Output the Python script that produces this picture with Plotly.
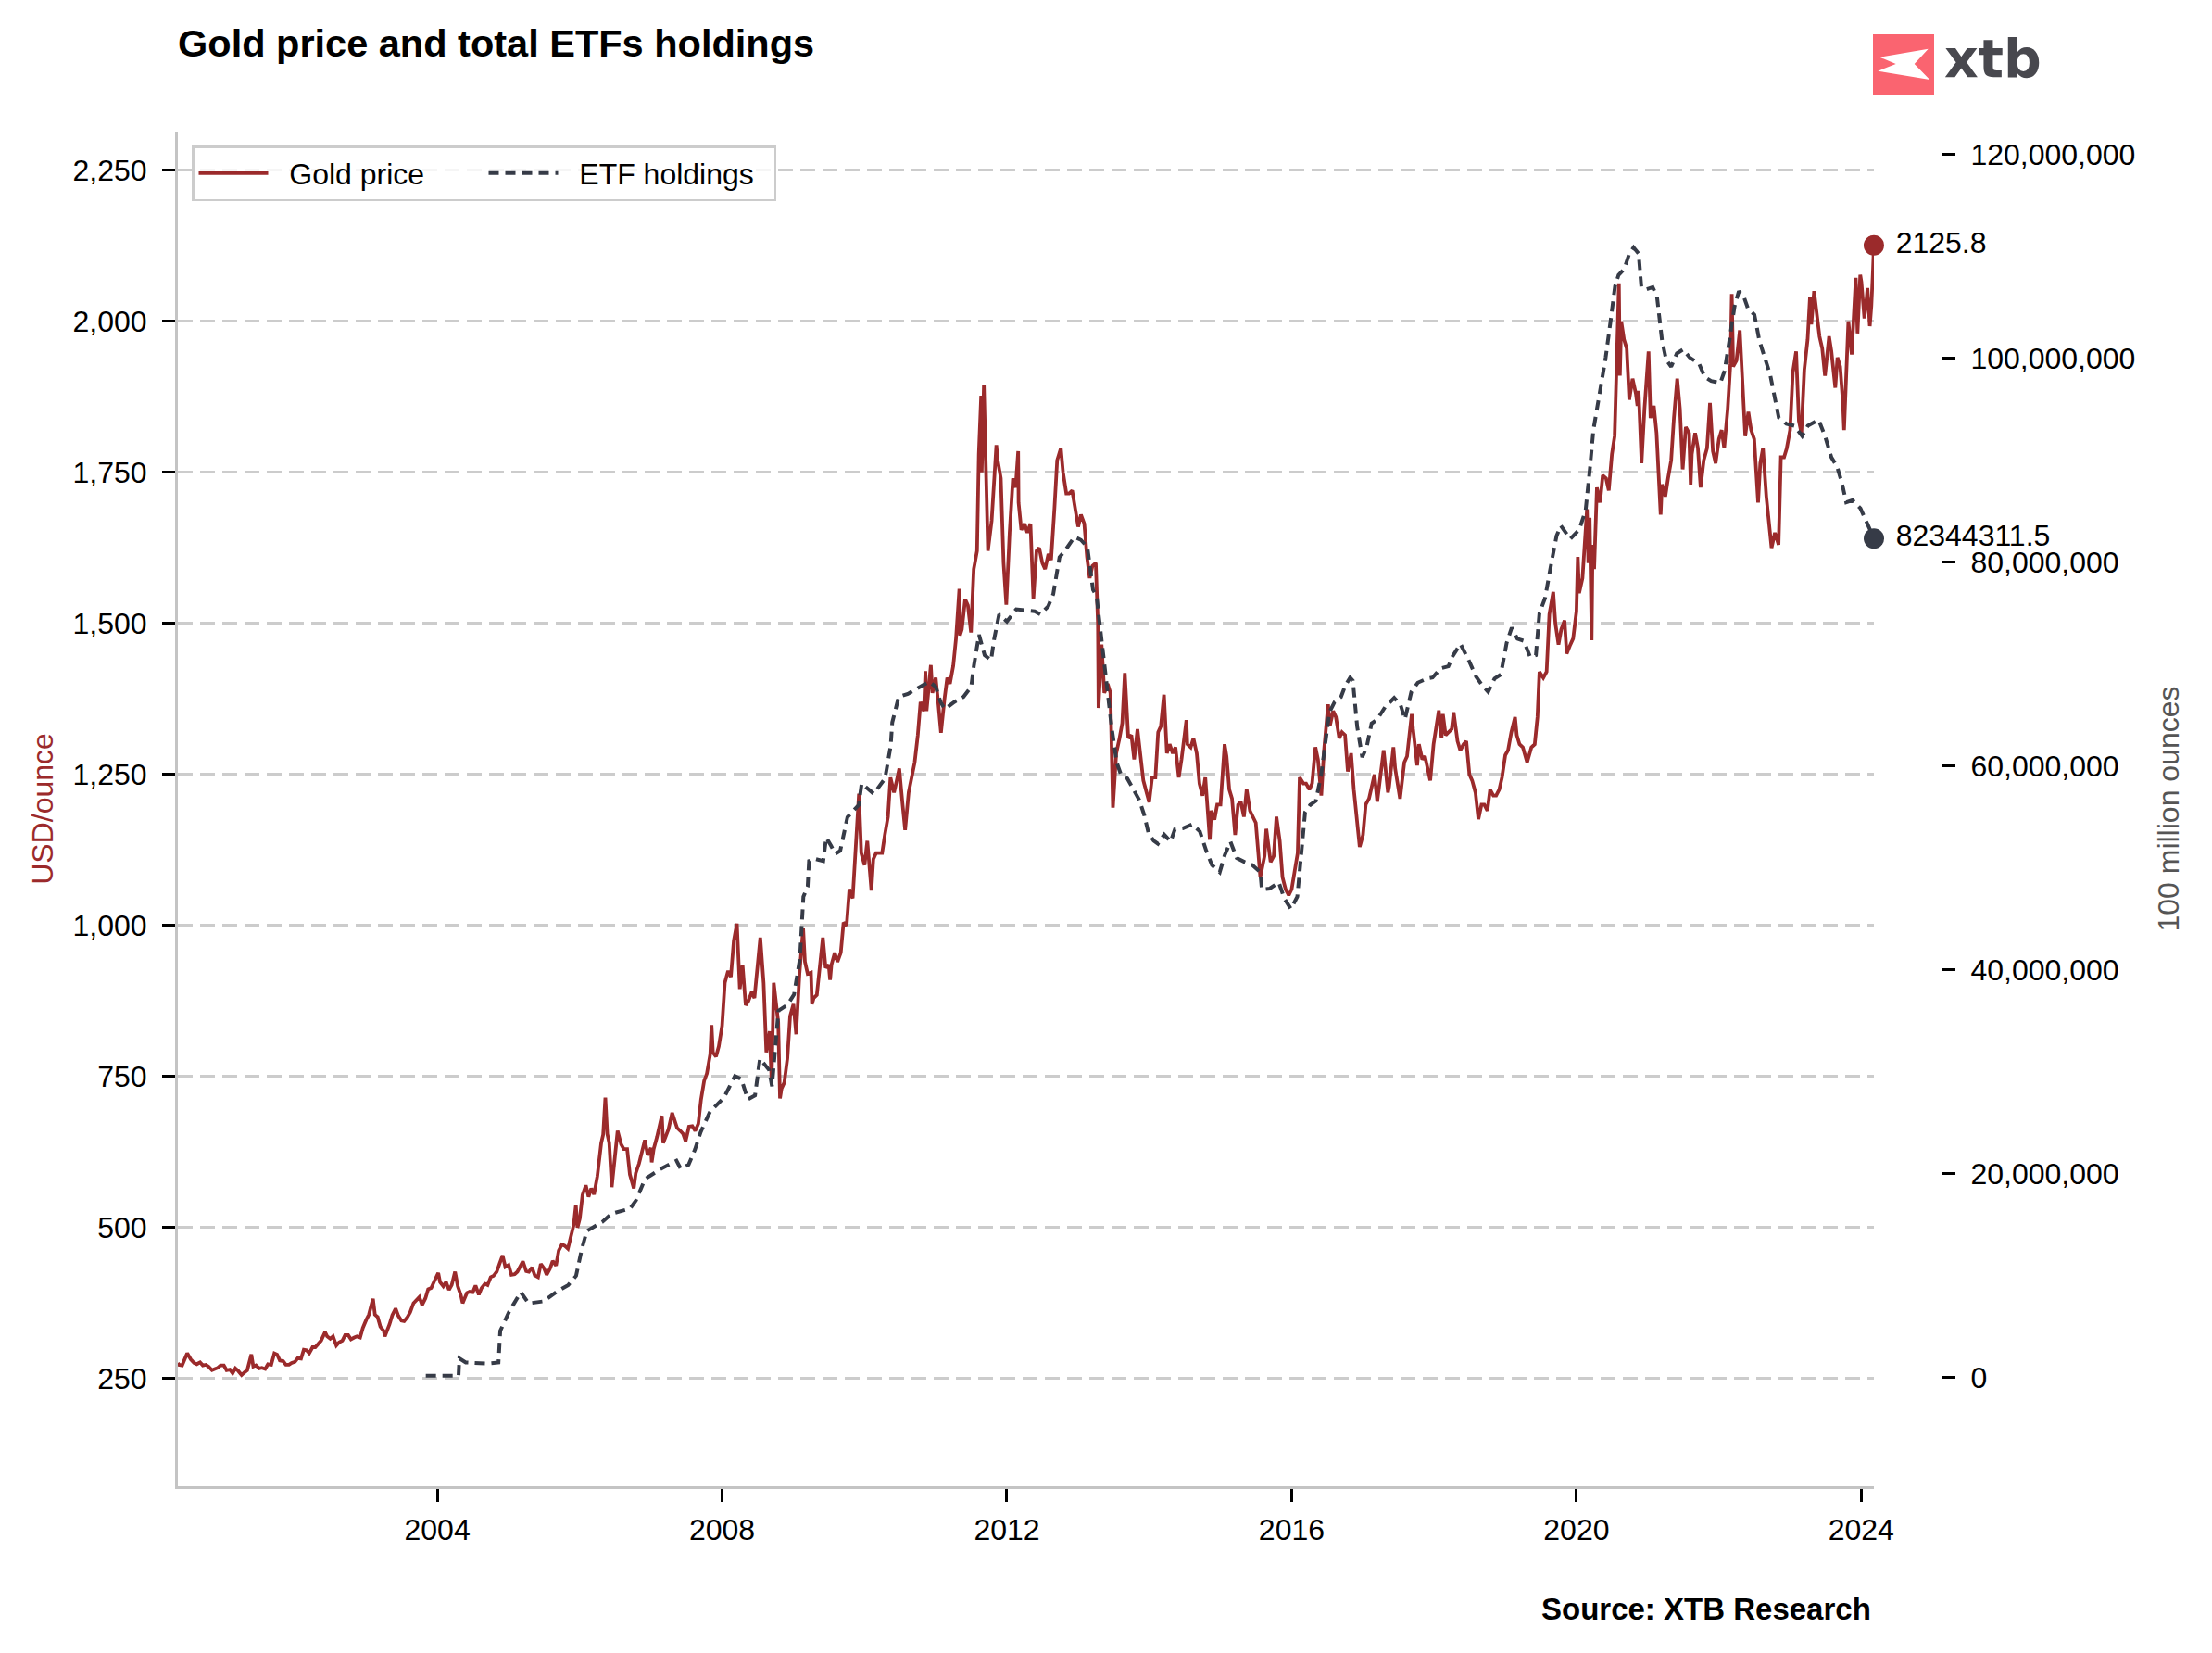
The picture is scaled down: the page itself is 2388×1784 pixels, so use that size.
import plotly.graph_objects as go

# ------------------------------------------------------------------ data
# Gold price, USD/ounce
gold_2000 = [("2000-05-10", 276), ("2000-05-15", 273), ("2000-06-01", 272), ("2000-06-15", 285), ("2000-06-27", 292),
             ("2000-07-15", 282), ("2000-08-01", 276), ("2000-08-15", 274), ("2000-09-01", 277), ("2000-09-15", 272),
             ("2000-10-01", 273), ("2000-10-15", 270), ("2000-11-01", 264), ("2000-11-15", 266), ("2000-12-01", 268),
             ("2000-12-15", 272)]
gold_2001 = [("2001-01-01", 272), ("2001-01-15", 264), ("2001-02-01", 265), ("2001-02-15", 259), ("2001-03-01", 267),
             ("2001-03-15", 263), ("2001-04-02", 256), ("2001-04-15", 260), ("2001-05-01", 264), ("2001-05-22", 290),
             ("2001-06-01", 270), ("2001-06-15", 272), ("2001-07-01", 267), ("2001-07-15", 268), ("2001-08-01", 266),
             ("2001-08-15", 274), ("2001-09-01", 273), ("2001-09-17", 292), ("2001-10-01", 290), ("2001-10-15", 280),
             ("2001-11-01", 279), ("2001-11-15", 273), ("2001-12-01", 273), ("2001-12-15", 276)]
gold_2002 = [("2002-01-01", 278), ("2002-01-15", 284), ("2002-02-01", 283), ("2002-02-15", 298), ("2002-03-01", 297),
             ("2002-03-15", 292), ("2002-04-01", 302), ("2002-04-15", 302), ("2002-05-01", 309), ("2002-05-15", 313),
             ("2002-06-04", 327), ("2002-06-15", 320), ("2002-07-01", 316), ("2002-07-15", 320), ("2002-08-01", 305),
             ("2002-08-15", 310), ("2002-09-01", 313), ("2002-09-15", 322), ("2002-10-01", 322), ("2002-10-15", 315),
             ("2002-11-01", 318), ("2002-11-15", 320), ("2002-12-01", 318), ("2002-12-15", 334)]
gold_2003 = [("2003-01-01", 347), ("2003-01-15", 356), ("2003-02-05", 382), ("2003-02-15", 356), ("2003-03-01", 352),
             ("2003-03-15", 336), ("2003-04-01", 329), ("2003-04-07", 320), ("2003-05-01", 340), ("2003-05-15", 355),
             ("2003-06-01", 366), ("2003-06-15", 354), ("2003-07-01", 346), ("2003-07-15", 345), ("2003-08-01", 352),
             ("2003-08-15", 360), ("2003-09-01", 375), ("2003-09-15", 379), ("2003-10-01", 385), ("2003-10-15", 372),
             ("2003-11-01", 383), ("2003-11-15", 398), ("2003-12-01", 400), ("2003-12-15", 410)]
gold_2004 = [("2004-01-06", 425), ("2004-01-15", 410), ("2004-02-01", 403), ("2004-02-15", 410), ("2004-03-01", 397),
             ("2004-03-15", 405), ("2004-04-01", 427), ("2004-04-15", 403), ("2004-05-01", 388), ("2004-05-10", 375),
             ("2004-06-01", 392), ("2004-06-15", 394), ("2004-07-01", 393), ("2004-07-15", 404), ("2004-08-01", 389),
             ("2004-08-15", 400), ("2004-09-01", 407), ("2004-09-15", 405), ("2004-10-01", 418), ("2004-10-15", 420),
             ("2004-11-01", 427), ("2004-11-15", 440), ("2004-12-01", 454), ("2004-12-15", 435)]
gold_2005 = [("2005-01-01", 438), ("2005-01-15", 422), ("2005-02-01", 423), ("2005-02-15", 427), ("2005-03-01", 435),
             ("2005-03-15", 444), ("2005-04-01", 428), ("2005-04-15", 427), ("2005-05-01", 434), ("2005-05-15", 421),
             ("2005-06-01", 418), ("2005-06-15", 440), ("2005-07-01", 433), ("2005-07-15", 422), ("2005-08-01", 432),
             ("2005-08-15", 445), ("2005-09-01", 437), ("2005-09-15", 462), ("2005-10-01", 472), ("2005-10-15", 470),
             ("2005-11-01", 465), ("2005-11-15", 486), ("2005-12-01", 505), ("2005-12-12", 537), ("2005-12-20", 500)]
gold_2006 = [("2006-01-01", 515), ("2006-01-15", 554), ("2006-02-01", 570), ("2006-02-15", 551), ("2006-03-01", 565),
             ("2006-03-15", 555), ("2006-04-01", 585), ("2006-04-21", 640), ("2006-05-01", 654), ("2006-05-12", 715),
             ("2006-05-22", 655), ("2006-06-01", 640), ("2006-06-14", 567), ("2006-07-01", 615), ("2006-07-14", 660),
             ("2006-08-01", 638), ("2006-08-15", 630), ("2006-09-01", 630), ("2006-09-15", 588), ("2006-10-05", 565),
             ("2006-10-15", 590), ("2006-11-01", 606), ("2006-11-15", 625), ("2006-12-01", 645), ("2006-12-15", 620)]
gold_2007 = [("2007-01-01", 632), ("2007-01-05", 608), ("2007-01-15", 630), ("2007-02-01", 650), ("2007-02-26", 685),
             ("2007-03-05", 640), ("2007-03-15", 650), ("2007-04-01", 663), ("2007-04-20", 690), ("2007-05-01", 680),
             ("2007-05-15", 665), ("2007-06-01", 660), ("2007-06-15", 655), ("2007-06-28", 643), ("2007-07-15", 667),
             ("2007-08-01", 668), ("2007-08-16", 660), ("2007-09-01", 672), ("2007-09-15", 712), ("2007-10-01", 743),
             ("2007-10-15", 755), ("2007-11-01", 787), ("2007-11-08", 835), ("2007-11-15", 790), ("2007-12-01", 783),
             ("2007-12-15", 800)]
gold_2008 = [("2008-01-01", 834), ("2008-01-15", 905), ("2008-02-01", 925), ("2008-02-15", 915), ("2008-03-01", 975),
             ("2008-03-17", 1003), ("2008-04-01", 895), ("2008-04-15", 935), ("2008-05-01", 868), ("2008-05-15", 875),
             ("2008-06-01", 890), ("2008-06-15", 880), ("2008-07-01", 940), ("2008-07-15", 980), ("2008-08-01", 905),
             ("2008-08-15", 790), ("2008-09-01", 825), ("2008-09-11", 740), ("2008-09-22", 905), ("2008-10-01", 880),
             ("2008-10-15", 840), ("2008-10-24", 714), ("2008-11-01", 730), ("2008-11-15", 740), ("2008-12-01", 780),
             ("2008-12-15", 850)]
gold_2009 = [("2009-01-01", 870), ("2009-01-15", 820), ("2009-02-01", 920), ("2009-02-20", 995), ("2009-03-01", 940),
             ("2009-03-15", 920), ("2009-04-01", 922), ("2009-04-06", 870), ("2009-04-15", 880), ("2009-05-01", 885),
             ("2009-05-15", 925), ("2009-06-01", 980), ("2009-06-15", 930), ("2009-07-01", 935), ("2009-07-08", 910),
             ("2009-07-15", 935), ("2009-08-01", 955), ("2009-08-15", 940), ("2009-09-01", 955), ("2009-09-15", 1005),
             ("2009-10-01", 1000), ("2009-10-15", 1060), ("2009-11-01", 1045), ("2009-11-15", 1118), ("2009-12-03", 1218),
             ("2009-12-15", 1120)]
gold_2010 = [("2010-01-01", 1100), ("2010-01-15", 1140), ("2010-02-05", 1058), ("2010-02-15", 1110), ("2010-03-01", 1120),
             ("2010-03-15", 1120), ("2010-04-01", 1120), ("2010-04-15", 1150), ("2010-05-01", 1180), ("2010-05-14", 1245),
             ("2010-06-01", 1220), ("2010-06-15", 1240), ("2010-06-28", 1260), ("2010-07-15", 1200), ("2010-07-28", 1158),
             ("2010-08-15", 1220), ("2010-09-01", 1250), ("2010-09-15", 1270), ("2010-10-01", 1315), ("2010-10-15", 1370),
             ("2010-11-01", 1355), ("2010-11-09", 1421), ("2010-11-15", 1355), ("2010-12-07", 1431), ("2010-12-15", 1385)]
gold_2011 = [("2011-01-01", 1410), ("2011-01-15", 1365), ("2011-01-28", 1319), ("2011-02-15", 1375), ("2011-03-01", 1410),
             ("2011-03-15", 1400), ("2011-04-01", 1430), ("2011-04-15", 1475), ("2011-05-02", 1557), ("2011-05-05", 1480),
             ("2011-05-15", 1490), ("2011-06-01", 1540), ("2011-06-15", 1530), ("2011-07-01", 1485), ("2011-07-15", 1590),
             ("2011-08-01", 1620), ("2011-08-10", 1780), ("2011-08-22", 1877), ("2011-08-25", 1750), ("2011-09-05", 1895),
             ("2011-09-15", 1780), ("2011-09-26", 1620), ("2011-10-15", 1670), ("2011-11-08", 1795), ("2011-11-15", 1770),
             ("2011-12-01", 1740), ("2011-12-15", 1600), ("2011-12-29", 1531)]
gold_2012 = [("2012-01-15", 1650), ("2012-02-01", 1740), ("2012-02-15", 1725), ("2012-02-28", 1785), ("2012-03-01", 1700),
             ("2012-03-15", 1655), ("2012-04-01", 1665), ("2012-04-15", 1650), ("2012-05-01", 1665), ("2012-05-16", 1540),
             ("2012-06-01", 1620), ("2012-06-15", 1625), ("2012-07-01", 1600), ("2012-07-15", 1590), ("2012-08-01", 1615),
             ("2012-08-15", 1605), ("2012-09-01", 1690), ("2012-09-15", 1770), ("2012-10-04", 1790), ("2012-10-15", 1750),
             ("2012-11-01", 1715), ("2012-11-15", 1715), ("2012-12-01", 1720), ("2012-12-15", 1695)]
gold_2013 = [("2013-01-01", 1660), ("2013-01-15", 1680), ("2013-02-01", 1665), ("2013-02-15", 1610), ("2013-03-01", 1575),
             ("2013-03-15", 1595), ("2013-04-01", 1600), ("2013-04-12", 1500), ("2013-04-15", 1360), ("2013-05-01", 1465),
             ("2013-05-15", 1385), ("2013-06-01", 1400), ("2013-06-15", 1385), ("2013-06-28", 1195), ("2013-07-15", 1285),
             ("2013-08-01", 1310), ("2013-08-15", 1335), ("2013-08-28", 1418), ("2013-09-15", 1310), ("2013-10-01", 1315),
             ("2013-10-15", 1275), ("2013-11-01", 1325), ("2013-11-15", 1285), ("2013-12-01", 1240), ("2013-12-31", 1204)]
gold_2014 = [("2014-01-15", 1245), ("2014-02-01", 1245), ("2014-02-15", 1320), ("2014-03-01", 1330), ("2014-03-17", 1382),
             ("2014-04-01", 1285), ("2014-04-15", 1300), ("2014-05-01", 1285), ("2014-05-15", 1295), ("2014-06-01", 1245),
             ("2014-06-15", 1275), ("2014-07-10", 1340), ("2014-07-15", 1300), ("2014-08-01", 1295), ("2014-08-15", 1310),
             ("2014-09-01", 1285), ("2014-09-15", 1235), ("2014-10-01", 1215), ("2014-10-15", 1245), ("2014-11-07", 1142),
             ("2014-11-15", 1190), ("2014-12-01", 1175), ("2014-12-15", 1200)]
gold_2015 = [("2015-01-01", 1200), ("2015-01-22", 1300), ("2015-02-01", 1280), ("2015-02-15", 1225), ("2015-03-01", 1210),
             ("2015-03-17", 1150), ("2015-04-01", 1200), ("2015-04-15", 1205), ("2015-05-01", 1180), ("2015-05-15", 1225),
             ("2015-06-01", 1190), ("2015-06-15", 1180), ("2015-07-01", 1170), ("2015-07-24", 1080), ("2015-08-15", 1115),
             ("2015-08-24", 1160), ("2015-09-15", 1105), ("2015-10-01", 1115), ("2015-10-15", 1180), ("2015-11-01", 1140),
             ("2015-11-15", 1080), ("2015-12-01", 1060), ("2015-12-17", 1050)]
gold_2016 = [("2016-01-01", 1060), ("2016-01-15", 1085), ("2016-02-01", 1120), ("2016-02-11", 1245), ("2016-03-01", 1235),
             ("2016-03-15", 1235), ("2016-04-01", 1225), ("2016-04-15", 1235), ("2016-05-02", 1295), ("2016-05-15", 1275),
             ("2016-06-01", 1215), ("2016-06-15", 1290), ("2016-06-24", 1320), ("2016-07-06", 1366), ("2016-07-15", 1330),
             ("2016-08-01", 1355), ("2016-08-15", 1345), ("2016-09-01", 1310), ("2016-09-15", 1320), ("2016-10-01", 1315),
             ("2016-10-15", 1255), ("2016-11-01", 1285), ("2016-11-15", 1225), ("2016-12-01", 1175), ("2016-12-15", 1130)]
gold_2017 = [("2017-01-01", 1150), ("2017-01-15", 1200), ("2017-02-01", 1210), ("2017-02-15", 1230), ("2017-03-01", 1250),
             ("2017-03-15", 1205), ("2017-04-01", 1245), ("2017-04-17", 1290), ("2017-05-09", 1220), ("2017-05-15", 1230),
             ("2017-06-06", 1295), ("2017-06-15", 1260), ("2017-07-10", 1210), ("2017-07-15", 1225), ("2017-08-01", 1270),
             ("2017-08-15", 1280), ("2017-09-08", 1350), ("2017-09-15", 1325), ("2017-10-06", 1265), ("2017-10-15", 1300),
             ("2017-11-01", 1275), ("2017-11-15", 1280), ("2017-12-12", 1240), ("2017-12-29", 1300)]
gold_2018 = [("2018-01-15", 1335), ("2018-01-25", 1356), ("2018-02-08", 1310), ("2018-02-15", 1350), ("2018-03-01", 1315),
             ("2018-03-15", 1320), ("2018-04-01", 1325), ("2018-04-11", 1353), ("2018-05-01", 1305), ("2018-05-15", 1290),
             ("2018-06-01", 1300), ("2018-06-15", 1305), ("2018-07-01", 1250), ("2018-07-15", 1240), ("2018-08-01", 1220),
             ("2018-08-16", 1176), ("2018-09-01", 1200), ("2018-09-15", 1200), ("2018-10-01", 1190), ("2018-10-15", 1225),
             ("2018-11-01", 1215), ("2018-11-15", 1215), ("2018-12-01", 1225), ("2018-12-15", 1245)]
gold_2019 = [("2019-01-01", 1282), ("2019-01-15", 1290), ("2019-02-01", 1320), ("2019-02-20", 1345), ("2019-03-01", 1315),
             ("2019-03-15", 1300), ("2019-04-01", 1295), ("2019-04-23", 1270), ("2019-05-01", 1280), ("2019-05-15", 1295),
             ("2019-06-01", 1300), ("2019-06-15", 1345), ("2019-06-25", 1420), ("2019-07-15", 1410), ("2019-08-01", 1420),
             ("2019-08-15", 1515), ("2019-09-04", 1552), ("2019-09-15", 1500), ("2019-10-01", 1465), ("2019-10-15", 1490),
             ("2019-11-01", 1505), ("2019-11-12", 1450), ("2019-12-01", 1465), ("2019-12-15", 1475)]
gold_2020 = [("2020-01-01", 1520), ("2020-01-08", 1610), ("2020-01-15", 1550), ("2020-02-01", 1575), ("2020-02-24", 1689),
             ("2020-03-02", 1600), ("2020-03-09", 1675), ("2020-03-19", 1472), ("2020-03-24", 1630), ("2020-04-01", 1590),
             ("2020-04-15", 1725), ("2020-05-01", 1700), ("2020-05-15", 1745), ("2020-06-01", 1740), ("2020-06-15", 1720),
             ("2020-07-01", 1780), ("2020-07-15", 1810), ("2020-08-06", 2063), ("2020-08-11", 1910), ("2020-08-18", 2000),
             ("2020-09-01", 1970), ("2020-09-15", 1955), ("2020-09-28", 1870), ("2020-10-15", 1905), ("2020-11-01", 1880),
             ("2020-11-09", 1860), ("2020-11-15", 1885), ("2020-11-30", 1765), ("2020-12-15", 1855)]
gold_2021 = [("2021-01-05", 1950), ("2021-01-15", 1840), ("2021-02-01", 1860), ("2021-02-15", 1815), ("2021-03-01", 1730),
             ("2021-03-08", 1680), ("2021-03-15", 1730), ("2021-04-01", 1710), ("2021-04-15", 1740), ("2021-05-01", 1770),
             ("2021-05-15", 1840), ("2021-06-01", 1905), ("2021-06-15", 1855), ("2021-06-29", 1755), ("2021-07-15", 1825),
             ("2021-08-01", 1815), ("2021-08-09", 1730), ("2021-08-15", 1780), ("2021-09-01", 1815), ("2021-09-15", 1790),
             ("2021-09-29", 1725), ("2021-10-15", 1770), ("2021-11-01", 1790), ("2021-11-16", 1865), ("2021-12-01", 1785),
             ("2021-12-15", 1765)]
gold_2022 = [("2022-01-01", 1805), ("2022-01-15", 1820), ("2022-01-28", 1790), ("2022-02-15", 1855), ("2022-03-01", 1930),
             ("2022-03-08", 2045), ("2022-03-15", 1925), ("2022-04-01", 1935), ("2022-04-18", 1985), ("2022-05-01", 1895),
             ("2022-05-16", 1810), ("2022-06-01", 1850), ("2022-06-15", 1820), ("2022-07-01", 1805), ("2022-07-21", 1700),
             ("2022-08-01", 1765), ("2022-08-15", 1790), ("2022-09-01", 1710), ("2022-09-15", 1670), ("2022-09-28", 1625),
             ("2022-10-15", 1650), ("2022-11-03", 1630), ("2022-11-15", 1775), ("2022-12-01", 1775), ("2022-12-15", 1790)]
gold_2023 = [("2023-01-01", 1820), ("2023-01-15", 1915), ("2023-02-01", 1950), ("2023-02-15", 1835), ("2023-02-28", 1815),
             ("2023-03-15", 1920), ("2023-04-01", 1970), ("2023-04-13", 2040), ("2023-04-20", 1995), ("2023-05-04", 2050),
             ("2023-05-15", 2015), ("2023-06-01", 1975), ("2023-06-15", 1955), ("2023-06-29", 1910), ("2023-07-20", 1975),
             ("2023-08-01", 1950), ("2023-08-21", 1890), ("2023-09-01", 1940), ("2023-09-15", 1925), ("2023-09-29", 1865),
             ("2023-10-05", 1820), ("2023-10-15", 1920), ("2023-10-27", 2000), ("2023-11-13", 1945), ("2023-11-30", 2040),
             ("2023-12-04", 2072), ("2023-12-13", 1980), ("2023-12-27", 2077)]
gold_2024 = [("2024-01-02", 2065), ("2024-01-17", 2005), ("2024-01-29", 2040), ("2024-02-02", 2055), ("2024-02-14", 1992),
             ("2024-02-22", 2025), ("2024-03-01", 2083), ("2024-03-06", 2125.8)]

# Total ETF holdings, million ounces
etf_2003_2008 = [("2003-11-03", 0.2), ("2004-04-19", 0.2), ("2004-04-23", 1.9), ("2004-05-26", 1.5), ("2004-09-13", 1.4),
                 ("2004-11-10", 1.5), ("2004-11-19", 4.6), ("2005-01-04", 6.5), ("2005-03-04", 8.4), ("2005-04-13", 7.3),
                 ("2005-06-28", 7.5), ("2005-09-02", 8.4), ("2005-11-03", 9.1), ("2005-12-13", 10.0), ("2006-01-11", 12.6),
                 ("2006-02-06", 14.4), ("2006-04-27", 15.3), ("2006-06-13", 16.1), ("2006-09-16", 16.6), ("2006-10-16", 17.4),
                 ("2006-12-02", 19.5), ("2007-02-21", 20.5), ("2007-05-12", 21.3), ("2007-06-03", 20.5), ("2007-07-13", 20.9),
                 ("2007-08-15", 22.4), ("2007-09-13", 24.1), ("2007-10-31", 26.1), ("2008-01-11", 27.5), ("2008-03-07", 29.6),
                 ("2008-04-09", 29.3), ("2008-05-12", 27.3), ("2008-06-18", 27.7), ("2008-07-13", 31.3), ("2008-08-29", 30.2),
                 ("2008-09-13", 28.6), ("2008-10-16", 36.0), ("2008-12-02", 36.6)]
etf_2009_2013 = [("2009-01-04", 37.6), ("2009-02-03", 41.1), ("2009-02-21", 47.2), ("2009-03-15", 48.2), ("2009-03-22", 50.7),
                 ("2009-04-24", 50.9), ("2009-06-03", 50.7), ("2009-06-18", 53.0), ("2009-07-13", 52.2), ("2009-08-04", 51.4),
                 ("2009-08-29", 51.7), ("2009-10-05", 55.0), ("2009-12-02", 56.2), ("2009-12-17", 58.3), ("2010-02-17", 57.3),
                 ("2010-04-16", 58.8), ("2010-05-15", 62.0), ("2010-05-23", 64.3), ("2010-06-25", 66.8), ("2010-08-11", 67.1),
                 ("2010-10-13", 67.8), ("2010-11-29", 68.3), ("2011-01-01", 67.8), ("2011-01-26", 66.3), ("2011-02-17", 65.6),
                 ("2011-04-06", 66.3), ("2011-05-23", 66.8), ("2011-07-02", 67.8), ("2011-07-16", 69.9), ("2011-08-11", 72.9),
                 ("2011-09-09", 70.9), ("2011-10-12", 70.4), ("2011-10-27", 72.4), ("2011-11-22", 74.9), ("2012-01-01", 74.2),
                 ("2012-02-18", 75.4), ("2012-05-23", 75.2), ("2012-06-21", 74.9), ("2012-07-31", 75.7), ("2012-08-26", 76.9),
                 ("2012-09-27", 80.5), ("2012-10-27", 81.2), ("2012-12-13", 82.5), ("2013-01-15", 82.2), ("2013-02-17", 81.5),
                 ("2013-03-18", 77.3), ("2013-04-05", 76.7), ("2013-05-05", 71.5), ("2013-05-30", 67.3), ("2013-06-21", 63.9),
                 ("2013-07-17", 60.4), ("2013-08-08", 59.2), ("2013-09-10", 58.8), ("2013-10-12", 57.6), ("2013-11-10", 56.7),
                 ("2013-12-06", 55.2), ("2013-12-28", 53.4)]
etf_2014_2018 = [("2014-01-23", 52.7), ("2014-02-14", 52.4), ("2014-03-18", 53.3), ("2014-04-20", 52.6), ("2014-05-12", 53.8),
                 ("2014-06-21", 53.9), ("2014-08-08", 54.3), ("2014-09-17", 53.6), ("2014-10-20", 51.7), ("2014-11-18", 50.3),
                 ("2014-12-28", 49.6), ("2015-01-23", 51.3), ("2015-02-21", 52.6), ("2015-03-25", 51.0), ("2015-05-05", 50.6),
                 ("2015-06-14", 50.3), ("2015-07-24", 49.6), ("2015-08-01", 47.9), ("2015-09-10", 48.0), ("2015-10-27", 48.6),
                 ("2015-11-25", 47.0), ("2015-12-28", 46.0), ("2016-01-30", 47.2), ("2016-02-21", 51.7), ("2016-03-10", 55.5),
                 ("2016-04-05", 56.2), ("2016-05-04", 56.6), ("2016-05-30", 59.0), ("2016-06-21", 62.1), ("2016-07-13", 65.3),
                 ("2016-08-08", 66.3), ("2016-09-10", 66.8), ("2016-10-02", 67.9), ("2016-10-27", 68.7), ("2016-11-10", 68.4),
                 ("2016-12-02", 63.9), ("2016-12-28", 60.9), ("2017-01-19", 61.8), ("2017-02-14", 64.2), ("2017-03-15", 64.6),
                 ("2017-04-24", 65.8), ("2017-06-10", 66.7), ("2017-07-13", 66.0), ("2017-08-04", 64.6), ("2017-09-06", 67.3),
                 ("2017-10-09", 68.2), ("2017-11-25", 68.6), ("2017-12-24", 68.7), ("2018-02-03", 69.6), ("2018-03-15", 69.8),
                 ("2018-04-06", 70.8), ("2018-05-16", 72.0), ("2018-06-25", 70.5), ("2018-08-04", 68.8), ("2018-09-06", 67.9),
                 ("2018-10-05", 67.3), ("2018-11-07", 68.6), ("2018-12-09", 69.0)]
etf_2019_2024 = [("2019-01-08", 72.1), ("2019-02-03", 73.6), ("2019-03-04", 72.5), ("2019-04-06", 72.3), ("2019-05-09", 70.7),
                 ("2019-06-07", 70.9), ("2019-06-25", 75.0), ("2019-07-24", 76.5), ("2019-08-26", 80.0), ("2019-09-21", 82.6),
                 ("2019-10-13", 83.6), ("2019-11-30", 82.3), ("2020-01-15", 83.2), ("2020-02-17", 85.1), ("2020-03-10", 89.2),
                 ("2020-03-28", 93.0), ("2020-04-30", 96.7), ("2020-05-30", 100.1), ("2020-06-25", 103.8), ("2020-07-17", 107.1),
                 ("2020-08-04", 108.2), ("2020-09-03", 108.8), ("2020-09-28", 110.3), ("2020-10-20", 110.9), ("2020-11-15", 110.3),
                 ("2020-11-29", 107.0), ("2020-12-25", 106.8), ("2021-01-26", 107.0), ("2021-02-17", 106.1), ("2021-03-15", 101.8),
                 ("2021-04-05", 99.9), ("2021-05-01", 99.2), ("2021-05-30", 100.5), ("2021-07-02", 100.9), ("2021-08-04", 100.1),
                 ("2021-09-21", 99.5), ("2021-10-20", 98.2), ("2021-11-22", 97.8), ("2022-01-08", 97.6), ("2022-01-30", 98.8),
                 ("2022-02-24", 101.8), ("2022-03-22", 105.1), ("2022-04-13", 106.6), ("2022-05-08", 106.1), ("2022-05-30", 104.9),
                 ("2022-07-02", 104.3), ("2022-07-27", 101.8), ("2022-08-26", 100.1), ("2022-09-21", 98.4), ("2022-10-13", 96.3),
                 ("2022-11-04", 94.2), ("2022-12-13", 93.6), ("2023-01-23", 93.4), ("2023-03-04", 92.4), ("2023-04-02", 93.4),
                 ("2023-05-27", 94.0), ("2023-06-29", 92.4), ("2023-08-01", 90.3), ("2023-08-30", 89.4), ("2023-09-24", 87.8),
                 ("2023-10-16", 85.9), ("2023-11-18", 86.1), ("2023-12-28", 85.3), ("2024-02-06", 83.6),
                 ("2024-03-06", 82.3443115)]

series_names = ["Gold price", "ETF holdings"]
tick_years = ["2004", "2008", "2012", "2016", "2020", "2024"]
usd_ticks = [250, 500, 750, 1000, 1250, 1500, 1750, 2000, 2250]
etf_ticks = [0, 20_000_000, 40_000_000, 60_000_000, 80_000_000, 100_000_000, 120_000_000]
usd_range = [72, 2314]
etf_range = [-10_640_000, 122_270_000]

# ------------------------------------------------------------------ assemble
gold_rows = (gold_2000 + gold_2001 + gold_2002 + gold_2003 + gold_2004 + gold_2005 + gold_2006 + gold_2007 +
             gold_2008 + gold_2009 + gold_2010 + gold_2011 + gold_2012 + gold_2013 + gold_2014 + gold_2015 +
             gold_2016 + gold_2017 + gold_2018 + gold_2019 + gold_2020 + gold_2021 + gold_2022 + gold_2023 + gold_2024)
etf_rows = etf_2003_2008 + etf_2009_2013 + etf_2014_2018 + etf_2019_2024
gold_dates = [d for d, _ in gold_rows]
gold_usd = [v for _, v in gold_rows]
etf_dates = [d for d, _ in etf_rows]
etf_oz = [v * 1e6 for _, v in etf_rows]

# ------------------------------------------------------------------ styling
FONT = "Liberation Sans, Arial, Helvetica, sans-serif"
GOLD = "#9b2a2b"
ETF = "#363b47"
NB = "\u00a0"
W, H = 2388, 1784
SH = 8                                   # page body margin of the html page
# screen positions (px) measured on the target
S_L, S_AX2, S_T, S_B, S_R = 192, 2096, 142, 1604, 2023
L, AX2, T, B = S_L - SH, S_AX2 - SH, S_T - SH, S_B - SH


def xp(px):
    return (px - SH - L) / (AX2 - L)


def yp(py):
    return (B - (py - SH)) / (B - T)


fig = go.Figure()
fig.add_trace(go.Scatter(x=gold_dates, y=gold_usd, name=NB * 2 + series_names[0], mode="lines",
                         line=dict(color=GOLD, width=3.8), yaxis="y"))
fig.add_trace(go.Scatter(x=etf_dates, y=etf_oz, name=NB * 2 + series_names[1], mode="lines",
                         line=dict(color=ETF, width=4, dash="11px,7px"), yaxis="y2"))
fig.add_trace(go.Scatter(x=[gold_dates[-1]], y=[gold_usd[-1]], mode="markers+text",
                         text=[NB + f"{gold_usd[-1]:.1f}"], textposition="middle right",
                         textfont=dict(size=32, color="black"),
                         marker=dict(color=GOLD, size=22), showlegend=False, cliponaxis=False, yaxis="y"))
fig.add_trace(go.Scatter(x=[etf_dates[-1]], y=[etf_oz[-1]], mode="markers+text",
                         text=[NB + f"{etf_oz[-1]:.1f}"], textposition="middle right",
                         textfont=dict(size=32, color="black"),
                         marker=dict(color=ETF, size=22), showlegend=False, cliponaxis=False, yaxis="y2"))

fig.update_layout(
    width=W, height=H,
    margin=dict(l=L, r=W - AX2, t=T, b=H - B, pad=0),
    paper_bgcolor="white", plot_bgcolor="white",
    font=dict(family=FONT, size=32, color="black"),
    title=dict(text="<b>Gold price and total ETFs holdings</b>", x=0, xref="paper", xanchor="left",
               y=1 - (46 - SH) / H, yref="container", yanchor="middle", font=dict(size=41.5, color="black")),
    legend=dict(x=xp(207), y=yp(157), xanchor="left", yanchor="top", orientation="h",
                bgcolor="rgba(255,255,255,0.8)", bordercolor="#cccccc", borderwidth=2.5,
                itemwidth=75, entrywidth=223, entrywidthmode="pixels",
                font=dict(size=32, color="black")),
    xaxis=dict(domain=[0, xp(S_R)], type="date", range=[gold_dates[0], gold_dates[-1]],
               tickvals=[f"{y}-01-01" for y in tick_years], ticktext=tick_years,
               showgrid=False, zeroline=False, showline=True, linecolor="#c4c4c4", linewidth=3,
               ticks="outside", ticklen=14, tickwidth=2.5, tickcolor="black", ticklabelstandoff=3,
               tickfont=dict(size=32, color="black")),
    yaxis=dict(range=usd_range, tickvals=usd_ticks, tickformat=",d",
               showgrid=True, gridcolor="#cccccc", gridwidth=3, griddash="16px,8px",
               zeroline=False, showline=True, linecolor="#c4c4c4", linewidth=3,
               ticks="outside", ticklen=14, tickwidth=3, tickcolor="black", ticklabelstandoff=10,
               tickfont=dict(size=32, color="black"),
               title=dict(text="USD/ounce", font=dict(size=32, color=GOLD), standoff=12)),
    yaxis2=dict(range=etf_range, tickvals=etf_ticks, tickformat=",d", overlaying="y", side="right",
                anchor="free", position=1, showgrid=False, zeroline=False, showline=False,
                ticks="outside", ticklen=14, tickwidth=3, tickcolor="black", ticklabelstandoff=10,
                tickfont=dict(size=32, color="black"),
                title=dict(text="100 million ounces", font=dict(size=32, color="#555555"), standoff=25)),
)

# xtb logo (top right)
fig.add_shape(type="rect", xref="paper", yref="paper", x0=xp(2022), x1=xp(2088), y0=yp(102), y1=yp(37),
              fillcolor="#fa6470", line=dict(width=0), layer="above")
glyph = [(2029.3, 61.7), (2081.7, 52.7), (2066.7, 69), (2083.3, 86), (2027.3, 76.7), (2046.7, 69)]
path = "M " + " L ".join(f"{xp(a):.5f},{yp(b):.5f}" for a, b in glyph) + " Z"
fig.add_shape(type="path", xref="paper", yref="paper", path=path, fillcolor="white",
              line=dict(width=0), layer="above")
fig.add_annotation(text="<b>xtb</b>", xref="paper", yref="paper", x=xp(2097), y=yp(63),
                   xanchor="left", yanchor="middle", showarrow=False,
                   font=dict(size=57, color="#48484e", family="DejaVu Sans, Liberation Sans, sans-serif"))

# source note
fig.add_annotation(text="<b>Source: XTB Research</b>", xref="paper", yref="paper", x=xp(2022), y=yp(1736),
                   xanchor="right", yanchor="middle", showarrow=False, font=dict(size=33, color="black"))

fig.write_html("out.html")
